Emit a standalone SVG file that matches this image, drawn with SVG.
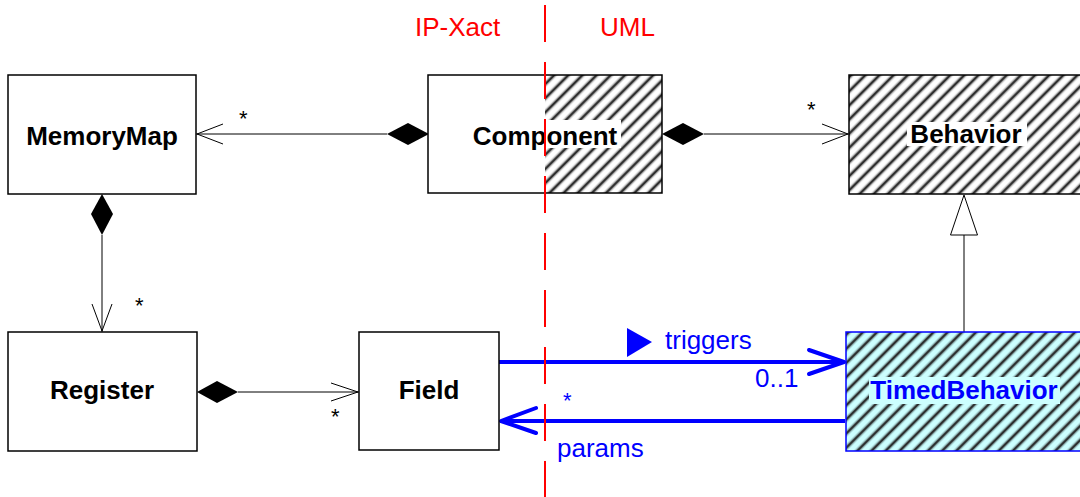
<svg xmlns="http://www.w3.org/2000/svg" width="1080" height="497" viewBox="0 0 1080 497">
<style>
.box{fill:#fff;stroke:#000;stroke-width:1.5}
.name{font-family:"Liberation Sans",Arial,sans-serif;font-weight:bold;font-size:26px;text-anchor:middle;fill:#000}
.lbl{font-family:"Liberation Sans",Arial,sans-serif;font-size:26px}
.star{font-family:"Liberation Sans",Arial,sans-serif;font-size:22px;fill:#000}
.thin{stroke:#000;stroke-width:1;fill:none}
.dia{fill:#000;stroke:none}
.blue{stroke:#0000ff;stroke-width:4;fill:none}
</style>
<defs>
<pattern id="hatch" patternUnits="userSpaceOnUse" width="10" height="10" patternTransform="rotate(45)">
<line x1="5" y1="-1" x2="5" y2="11" stroke="#000" stroke-opacity="0.35" stroke-width="4.5"/>
<line x1="5" y1="-1" x2="5" y2="11" stroke="#222" stroke-width="1.8"/>
</pattern>
</defs>
<rect width="1080" height="497" fill="#fff"/>
<g id="connectors">
<line class="thin" x1="196" y1="134" x2="387" y2="134"/>
<polygon class="dia" points="387,134 408,123 429,134 408,145"/>
<polyline class="thin" points="223,124 197,134 223,144"/>
<text class="star" x="239" y="126">*</text>
<line class="thin" x1="704" y1="134" x2="849" y2="134"/>
<polygon class="dia" points="662,134 683,123 704,134 683,145"/>
<polyline class="thin" points="822,124 848,134 822,144"/>
<text class="star" x="807" y="117">*</text>
<line class="thin" x1="102" y1="235" x2="102" y2="332"/>
<polygon class="dia" points="102,194 113,214 102,235 91,214"/>
<polyline class="thin" points="92,304 102,331 112,304"/>
<text class="star" x="135" y="313">*</text>
<line class="thin" x1="238" y1="392" x2="359" y2="392"/>
<polygon class="dia" points="197,392 217,381 238,392 217,403"/>
<polyline class="thin" points="331,383 358,392 331,401"/>
<text class="star" x="331" y="424">*</text>
<line class="thin" x1="964" y1="332" x2="964" y2="235"/>
<polygon points="964,195 977.5,235 950.5,235" fill="#fff" stroke="#000" stroke-width="1"/>
<line class="blue" x1="499" y1="362" x2="844" y2="362"/>
<polyline class="blue" points="809,350 844,362 809,374" stroke-linecap="round" stroke-linejoin="round"/>
<polygon points="627,328 652,342 627,357" fill="#0000ff"/>
<text class="lbl" x="665" y="349" fill="#0000ff">triggers</text>
<text class="lbl" x="755" y="387" fill="#0000ff">0..1</text>
<line class="blue" x1="845" y1="421" x2="501" y2="421"/>
<polyline class="blue" points="536,408 501,421 536,433" stroke-linecap="round" stroke-linejoin="round"/>
<text class="star" x="563" y="408" style="fill:#0000ff">*</text>
<text class="lbl" x="557" y="457" fill="#0000ff">params</text>
</g>
<g id="MemoryMap">
<rect class="box" x="8" y="75" width="188" height="119"/>
<text class="name" x="102" y="145">MemoryMap</text>
</g>
<g id="Component">
<rect x="428" y="75" width="234" height="118" fill="#fff"/>
<rect x="545" y="75" width="117" height="118" fill="url(#hatch)"/>
<rect x="471" y="120" width="150" height="28" fill="#fff"/>
<rect x="428" y="75" width="234" height="118" fill="none" stroke="#000" stroke-width="1.5"/>
<text class="name" x="545" y="145">Component</text>
</g>
<g id="Behavior">
<rect x="849" y="75" width="235" height="119" fill="#fff"/>
<rect x="849" y="75" width="235" height="119" fill="url(#hatch)"/>
<rect x="907" y="122" width="120" height="24" fill="#fff"/>
<rect x="849" y="75" width="235" height="119" fill="none" stroke="#000" stroke-width="1.5"/>
<text class="name" x="966" y="143">Behavior</text>
</g>
<g id="Register">
<rect class="box" x="8" y="332" width="189" height="119"/>
<text class="name" x="102" y="399">Register</text>
</g>
<g id="Field">
<rect class="box" x="359" y="332" width="140" height="118"/>
<text class="name" x="429" y="399">Field</text>
</g>
<g id="TimedBehavior">
<rect x="846" y="332" width="238" height="119" fill="#ccffff"/>
<rect x="846" y="332" width="238" height="119" fill="url(#hatch)"/>
<rect x="869" y="377" width="191" height="27" fill="#ccffff"/>
<rect x="846" y="332" width="238" height="119" fill="none" stroke="#0000ff" stroke-width="1.5"/>
<text class="name" x="964" y="399" style="fill:#0000ff">TimedBehavior</text>
</g>
<g id="divider">
<line x1="545" y1="5" x2="545" y2="497" stroke="#ff0000" stroke-width="2" stroke-dasharray="37 20"/>
<text class="lbl" x="415" y="36" fill="#ff0000">IP-Xact</text>
<text class="lbl" x="600" y="36" fill="#ff0000">UML</text>
</g>
</svg>
